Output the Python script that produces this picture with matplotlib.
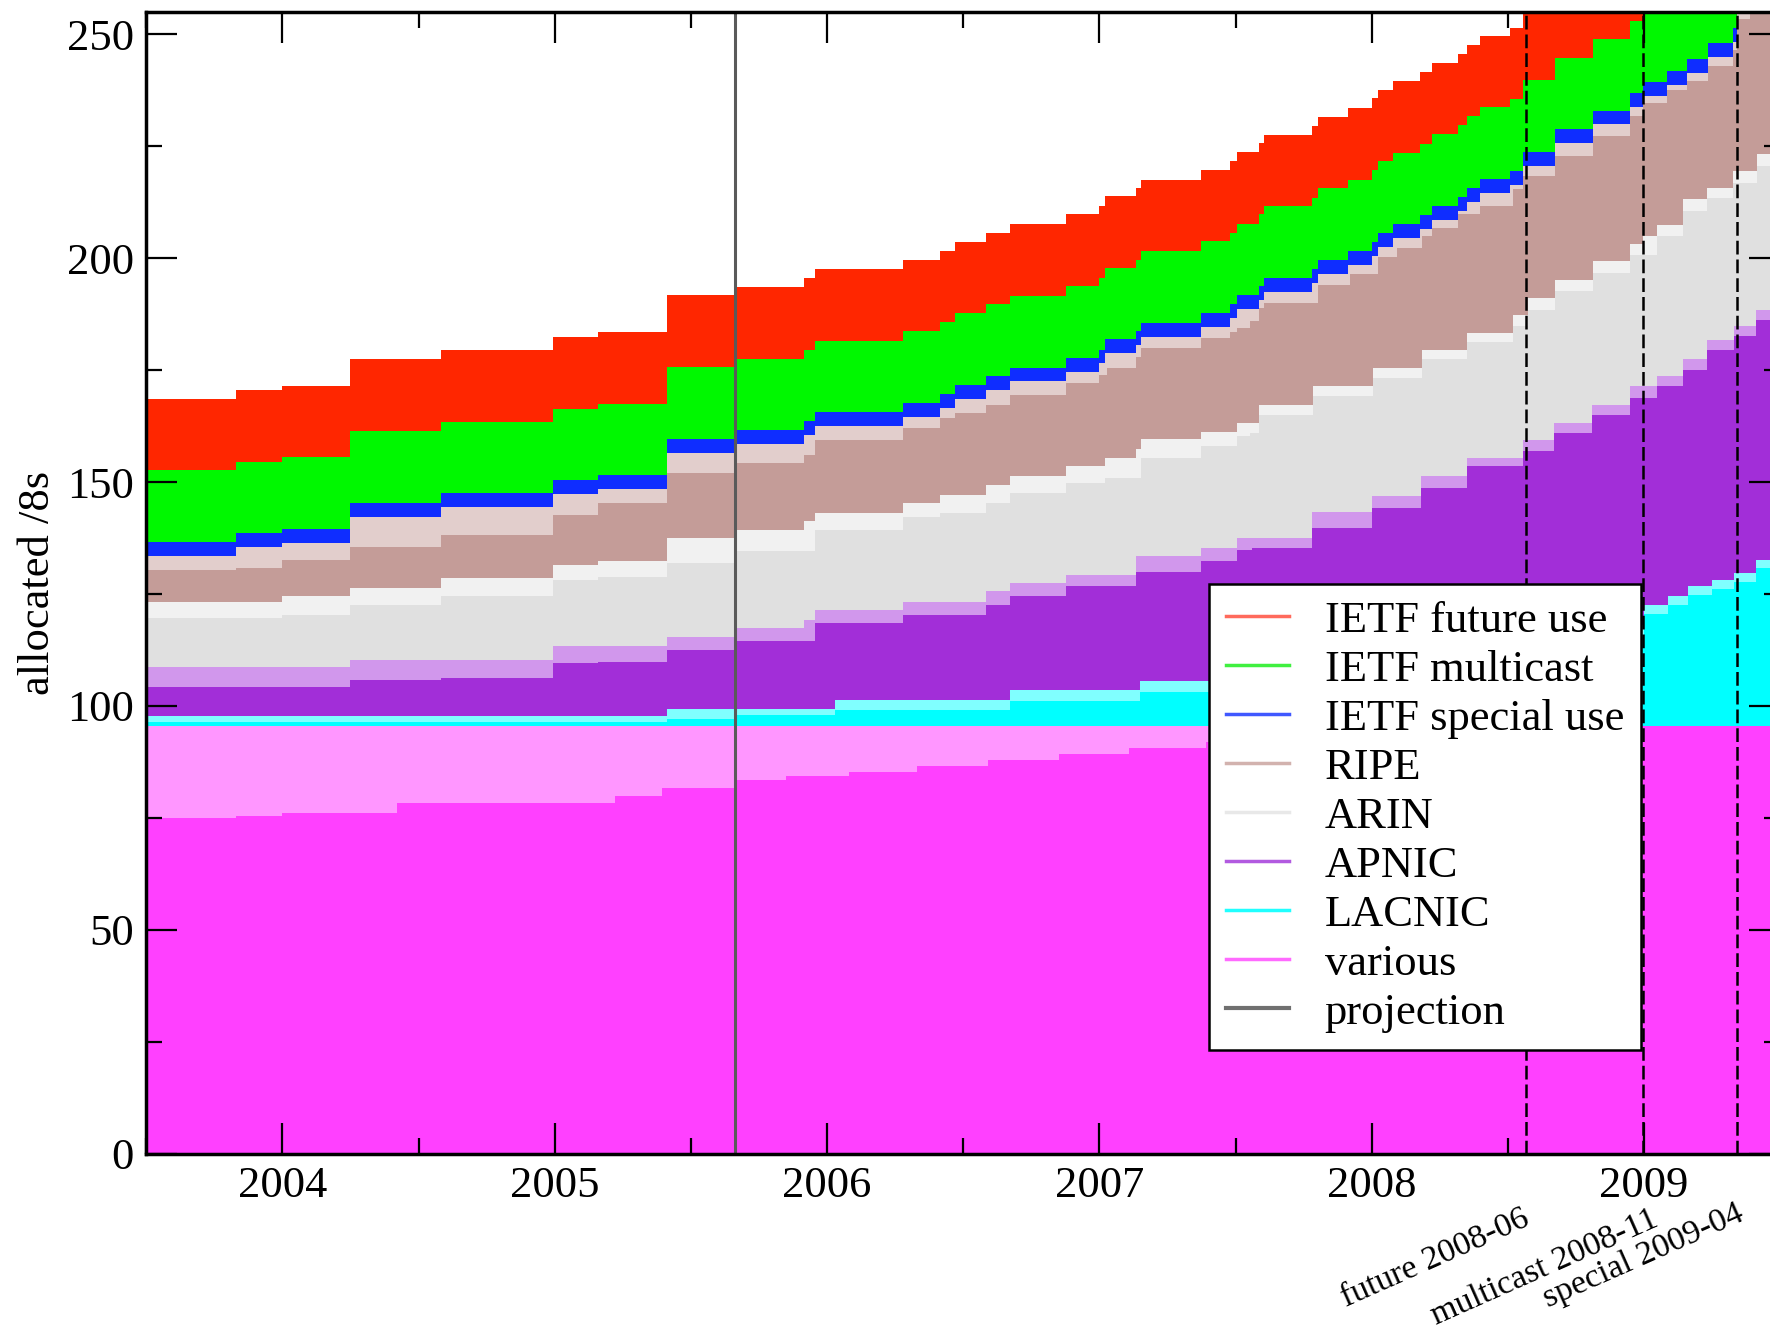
import numpy as np
import matplotlib
matplotlib.use("Agg")
import matplotlib.pyplot as plt
from matplotlib.lines import Line2D
from matplotlib.ticker import MultipleLocator, FixedLocator

plt.rcParams['font.family'] = ['Liberation Serif', 'DejaVu Serif']

X_START, X_END = 2003.5, 2009.5

# ---------------- data (cumulative stack heights, /8s) ----------------
# total allocated (top of the "IETF future use" band)
total_dates = [2003.500, 2003.828, 2003.997, 2004.248, 2004.583, 2004.995, 2005.160, 2005.413,
               2005.662, 2005.915, 2005.955, 2006.280, 2006.415, 2006.468, 2006.584, 2006.672,
               2006.876, 2007.000, 2007.022, 2007.135, 2007.152, 2007.374, 2007.480, 2007.505,
               2007.585, 2007.606, 2007.780, 2007.804, 2007.914, 2008.000, 2008.024, 2008.080,
               2008.177, 2008.220, 2008.318, 2008.350, 2008.398, 2008.508, 2008.554, 2008.673,
               2008.814, 2008.949, 2008.998, 2009.083, 2009.157, 2009.236, 2009.328, 2009.340,
               2009.390]
total_alloc = [168.6, 170.6, 171.5, 177.4, 179.5, 182.4, 183.5, 191.7,
               193.6, 195.6, 197.6, 199.7, 201.7, 203.7, 205.7, 207.6,
               209.8, 211.6, 213.9, 215.7, 217.6, 219.8, 221.7, 223.7,
               225.8, 227.6, 229.5, 231.6, 233.6, 235.7, 237.7, 239.6,
               241.6, 243.7, 245.7, 247.7, 249.7, 251.5, 255.8, 260.8,
               265.0, 269.0, 271.4, 273.8, 276.5, 280.0, 283.5, 290.6,
               293.5]
ietf_future = 16.0
ietf_multicast = 16.0
ietf_special = 3.1

ripe_used_dates = [2003.500, 2003.828, 2003.997, 2004.248, 2004.583, 2004.995, 2005.160, 2005.413,
                   2005.662, 2005.915, 2005.955, 2006.280, 2006.415, 2006.468, 2006.584, 2006.672,
                   2006.876, 2007.000, 2007.027, 2007.135, 2007.152, 2007.374, 2007.480, 2007.505,
                   2007.553, 2007.585, 2007.606, 2007.804, 2007.920, 2008.024, 2008.092, 2008.184,
                   2008.220, 2008.318, 2008.398, 2008.520, 2008.557, 2008.673, 2008.814, 2008.949,
                   2008.998, 2009.083, 2009.157, 2009.236, 2009.328, 2009.340, 2009.390]
ripe_used_top = [130.4, 130.8, 132.7, 135.6, 138.2, 142.7, 145.3, 152.0,
                 154.3, 156.1, 159.5, 162.1, 164.3, 165.4, 167.3, 169.5,
                 172.2, 174.0, 175.5, 178.0, 180.0, 182.2, 183.5, 184.4,
                 185.9, 189.0, 190.0, 194.1, 196.4, 200.4, 202.3, 204.9,
                 206.8, 209.8, 211.6, 215.4, 218.3, 222.8, 227.3, 231.7,
                 234.7, 237.7, 239.5, 243.0, 246.5, 253.4, 256.5]

arin_dates = [2003.500, 2003.997, 2004.248, 2004.583, 2004.995, 2005.160, 2005.413, 2005.662,
              2005.915, 2005.955, 2006.280, 2006.415, 2006.584, 2006.672, 2006.876, 2007.022,
              2007.135, 2007.152, 2007.374, 2007.505, 2007.585, 2007.785, 2008.006, 2008.184,
              2008.350, 2008.520, 2008.575, 2008.673, 2008.814, 2008.949, 2008.998, 2009.047,
              2009.144, 2009.230, 2009.328, 2009.414]
arin_top = [123.3, 124.5, 126.3, 128.6, 131.5, 132.3, 137.5, 139.4,
            141.2, 143.2, 145.3, 147.2, 149.4, 151.3, 153.5, 155.4,
            157.5, 159.6, 161.3, 163.3, 167.3, 171.4, 175.5, 179.6,
            183.3, 187.4, 191.1, 195.2, 199.3, 203.1, 204.9, 207.5,
            213.2, 215.7, 219.4, 223.2]

arin_used_dates = [2003.500, 2003.997, 2004.248, 2004.583, 2004.995, 2005.160, 2005.413, 2005.662,
                   2005.955, 2006.280, 2006.415, 2006.584, 2006.672, 2006.876, 2007.022, 2007.152,
                   2007.374, 2007.505, 2007.553, 2007.585, 2007.785, 2008.006, 2008.184, 2008.350,
                   2008.520, 2008.575, 2008.673, 2008.814, 2008.949, 2009.047, 2009.144, 2009.230,
                   2009.328, 2009.414]
arin_used_top = [119.6, 120.4, 122.6, 124.5, 128.2, 128.9, 131.9, 134.5,
                 139.4, 142.3, 143.1, 145.3, 147.6, 149.8, 150.9, 155.4,
                 158.0, 160.2, 161.0, 165.1, 169.2, 173.3, 177.4, 181.4,
                 184.8, 188.5, 192.6, 196.7, 200.8, 205.0, 210.5, 213.5,
                 216.8, 220.6]

apnic_dates = [2003.500, 2004.248, 2004.995, 2005.413, 2005.662, 2005.915, 2005.955, 2006.280,
               2006.584, 2006.672, 2006.876, 2007.135, 2007.374, 2007.505, 2007.780, 2008.000,
               2008.180, 2008.350, 2008.556, 2008.670, 2008.810, 2008.950, 2009.047, 2009.144,
               2009.230, 2009.330, 2009.410]
apnic_top = [108.7, 110.3, 113.3, 115.5, 117.4, 119.2, 121.5, 123.3,
             125.6, 127.4, 129.3, 133.4, 135.3, 137.5, 143.4, 146.8,
             151.3, 155.4, 159.5, 163.2, 167.3, 171.4, 173.6, 177.4,
             181.8, 184.8, 188.5]

apnic_used_dates = [2003.500, 2004.248, 2004.583, 2004.995, 2005.160, 2005.413, 2005.662, 2005.955,
                    2006.280, 2006.584, 2006.672, 2006.876, 2007.135, 2007.374, 2007.505, 2007.560,
                    2007.780, 2008.000, 2008.180, 2008.350, 2008.556, 2008.670, 2008.810, 2008.950,
                    2009.047, 2009.144, 2009.230, 2009.330, 2009.410]
apnic_used_top = [104.3, 105.8, 106.2, 109.6, 109.9, 112.5, 114.4, 118.5,
                  120.4, 122.6, 124.5, 126.7, 130.0, 132.3, 134.9, 135.3,
                  139.7, 144.2, 148.7, 153.5, 156.9, 161.0, 165.1, 168.8,
                  171.4, 175.1, 179.6, 182.6, 186.3]

lacnic_dates = [2003.500, 2005.413, 2006.030, 2006.672, 2007.150, 2007.600, 2008.200, 2008.700,
                2009.000, 2009.090, 2009.160, 2009.250, 2009.330, 2009.410]
lacnic_top = [97.8, 99.4, 101.4, 103.6, 105.5, 108.0, 113.0, 118.0,
              122.6, 124.5, 126.7, 128.2, 129.7, 132.7]

lacnic_used_dates = [2003.500, 2005.413, 2005.662, 2006.030, 2006.672, 2007.150, 2007.600, 2008.200,
                     2008.700, 2009.000, 2009.090, 2009.160, 2009.250, 2009.330, 2009.410]
lacnic_used_top = [96.5, 97.0, 98.0, 99.1, 101.0, 103.0, 105.5, 110.5,
                   115.5, 120.6, 122.5, 124.7, 126.2, 127.7, 130.7]

various_dates = [2003.500]
various_top = [95.4]

various_used_dates = [2003.500, 2003.828, 2003.997, 2004.420, 2005.220, 2005.395, 2005.662, 2005.850,
                      2006.080, 2006.330, 2006.590, 2006.850, 2007.110, 2007.390, 2007.700, 2008.000,
                      2008.100]
various_used_top = [74.9, 75.4, 76.0, 78.2, 79.8, 81.6, 83.5, 84.3,
                    85.3, 86.6, 88.0, 89.3, 90.6, 92.0, 93.6, 95.0,
                    95.4]

projection_date = 2005.662
exhaustion_dates = [2008.567, 2008.998, 2009.340]
exhaustion_labels = ["future 2008-06", "multicast 2008-11", "special 2009-04"]

year_ticks = [2004, 2005, 2006, 2007, 2008, 2009]
legend_labels = ["IETF future use", "IETF multicast", "IETF special use", "RIPE", "ARIN",
                 "APNIC", "LACNIC", "various", "projection"]

# ---------------- styling ----------------
C_FUTURE = '#ff2600'
C_MULTI = '#00f800'
C_SPECIAL = '#0f2dff'
C_RIPE = '#c49c98'
C_ARIN = '#e0e0e0'
C_APNIC = '#a22ed8'
C_LACNIC = '#00ffff'
C_VARIOUS = '#ff40ff'
C_PROJ = '#5a5a5a'


def tint(c, f=0.5):
    r, g, b = matplotlib.colors.to_rgb(c)
    return (r + (1 - r) * f, g + (1 - g) * f, b + (1 - b) * f)


fig = plt.figure(figsize=(17.7, 13.38), dpi=100)
ax = fig.add_axes([0.08268, 0.13789, 0.92305, 0.85306])

td = np.array(total_dates)
tv = np.array(total_alloc)

layers = [
    (td, tv, C_FUTURE),
    (td, tv - ietf_future, C_MULTI),
    (td, tv - ietf_future - ietf_multicast, C_SPECIAL),
    (td, tv - ietf_future - ietf_multicast - ietf_special, tint(C_RIPE)),
    (ripe_used_dates, ripe_used_top, C_RIPE),
    (arin_dates, arin_top, tint(C_ARIN, 0.55)),
    (arin_used_dates, arin_used_top, C_ARIN),
    (apnic_dates, apnic_top, tint(C_APNIC)),
    (apnic_used_dates, apnic_used_top, C_APNIC),
    (lacnic_dates, lacnic_top, tint(C_LACNIC)),
    (lacnic_used_dates, lacnic_used_top, C_LACNIC),
    (various_dates, various_top, tint(C_VARIOUS, 0.45)),
    (various_used_dates, various_used_top, C_VARIOUS),
]
for d, v, c in layers:
    x = np.r_[np.asarray(d, float), X_END]
    y = np.r_[np.asarray(v, float), np.asarray(v, float)[-1]]
    ax.fill_between(x, 0, y, step='post', color=c, lw=0, zorder=1)

ax.axvline(projection_date, color=C_PROJ, lw=2.2, zorder=2)
for d in exhaustion_dates:
    ax.axvline(d, color='black', lw=1.8, linestyle=(0, (5.5, 2.0)), zorder=2)

ax.set_xlim(X_START, X_END)
ax.set_ylim(0, 255)
ax.xaxis.set_major_locator(FixedLocator(year_ticks))
ax.set_xticklabels([str(y) for y in year_ticks])
ax.xaxis.set_minor_locator(MultipleLocator(0.5))
ax.yaxis.set_major_locator(MultipleLocator(50))
ax.yaxis.set_minor_locator(MultipleLocator(25))
ax.tick_params(which='both', direction='in', top=True, right=True, width=1.6, colors='black')
ax.tick_params(which='major', length=22, labelsize=32)
ax.tick_params(which='minor', length=11.5)
ax.tick_params(axis='x', which='major', pad=9)
ax.tick_params(axis='y', which='major', pad=9)
for s in ax.spines.values():
    s.set_linewidth(2.5)
    s.set_zorder(3)

ax.set_ylabel('allocated /8s', fontsize=32)
ax.yaxis.set_label_coords(-0.054, 0.5)

handle_colors = ['#ff6a5c', '#40f040', '#4058ff', '#d2b2ae', '#e8e8e8', '#b25ae0', '#20ffff', '#ff6aff']
handles = [Line2D([], [], color=c, lw=2.5) for c in handle_colors]
handles.append(Line2D([], [], color='#707070', lw=3))
leg = ax.legend(handles, legend_labels, loc='upper left',
                bbox_to_anchor=(1209 / 1770, 1 - 584 / 1338), bbox_transform=fig.transFigure,
                fontsize=32, frameon=True, fancybox=False, edgecolor='black', framealpha=1,
                borderpad=0.38, labelspacing=0.2, handlelength=1.42, handletextpad=0.8,
                borderaxespad=0)
leg.get_frame().set_linewidth(1.8)
leg.set_zorder(5)

offsets = [(8, -50), (19, -50), (12, -45)]
for d, lab, (dx, dy) in zip(exhaustion_dates, exhaustion_labels, offsets):
    ax.annotate(lab, xy=(d, 0), xycoords=('data', 'axes fraction'),
                xytext=(dx, dy), textcoords='offset pixels',
                rotation=24, ha='right', va='top', fontsize=24.5, annotation_clip=False)

fig.savefig('out.png', dpi=100)
